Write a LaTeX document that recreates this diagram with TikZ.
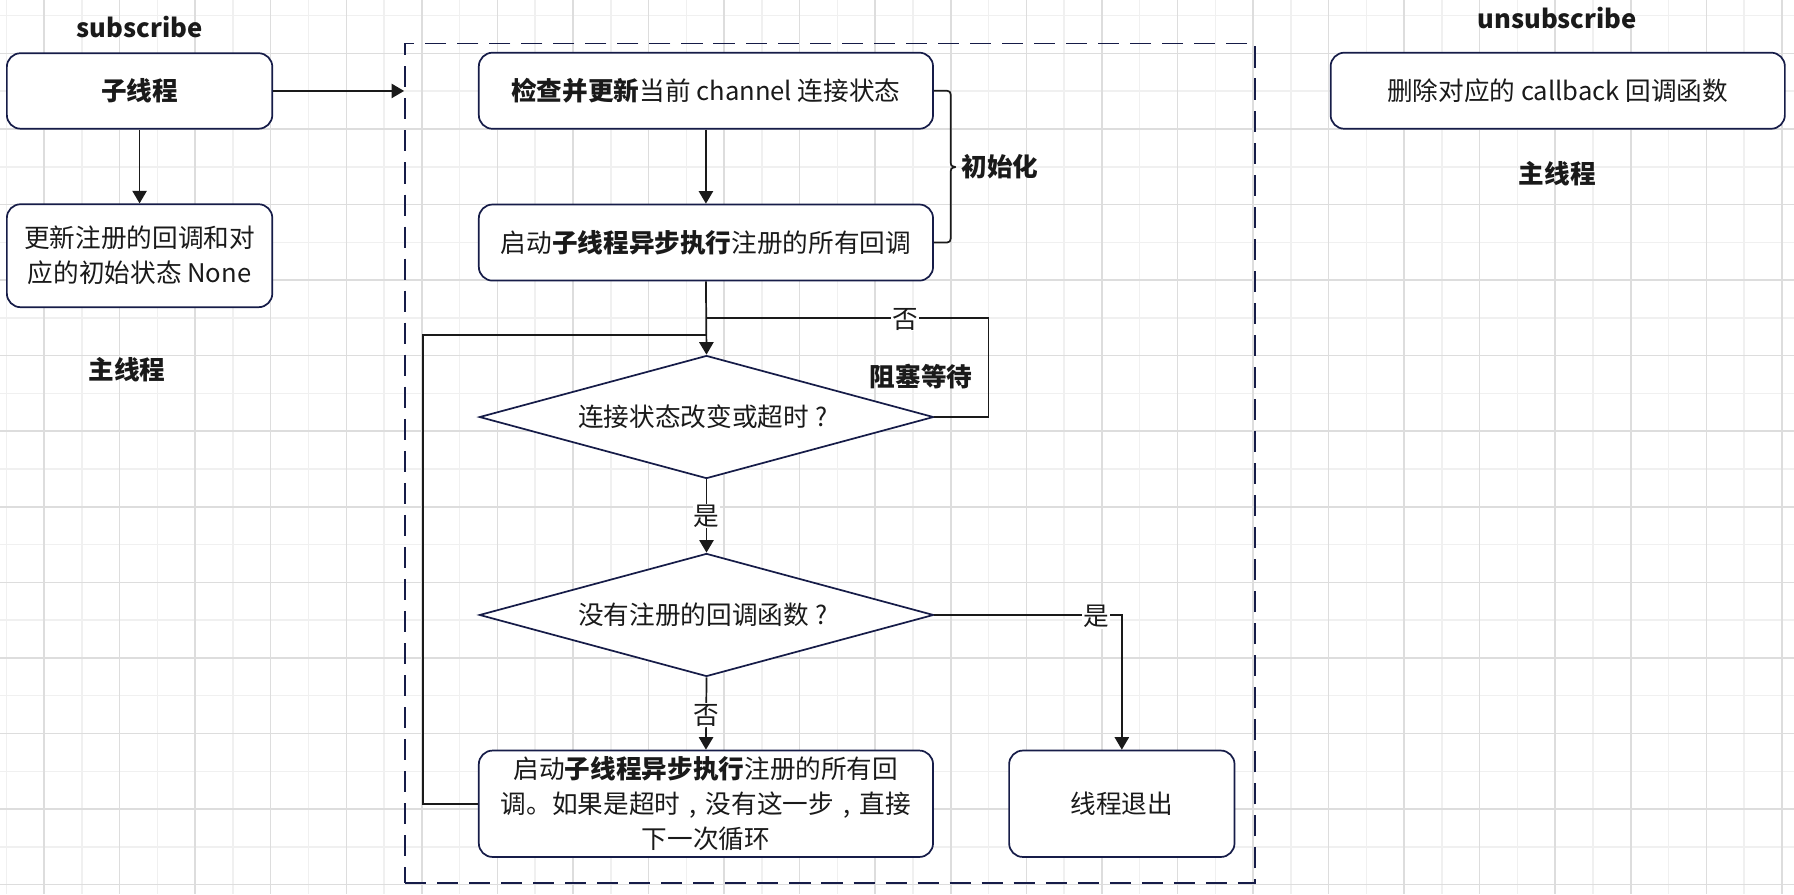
\documentclass[tikz,border=0pt]{standalone}
\usepackage{fontspec}
\setmainfont{Noto Sans CJK SC}
\usetikzlibrary{arrows.meta,shapes.geometric,calc}
\definecolor{navy}{RGB}{22,28,72}
\definecolor{txt}{RGB}{26,26,26}
\definecolor{gridA}{RGB}{240,240,240}
\definecolor{gridB}{RGB}{221,221,221}
\newcommand{\cq}{\makebox[1em][c]{?}}
\newcommand{\cc}{\makebox[1em][c]{,}}
\begin{document}
\begin{tikzpicture}[x=1pt,y=-1pt,
  every node/.style={font=\fontsize{22.4}{30.5}\selectfont, text=txt},
  box/.style={draw=navy, line width=1.5pt, rounded corners=12pt, fill=white, align=center, inner sep=0pt},
  dia/.style={draw=navy, line width=1.5pt, diamond, shape aspect=3.7, fill=white, inner sep=0pt, minimum width=397pt, minimum height=107.5pt, align=center},
  grpbox/.style={draw=navy, line width=1.6pt, dash pattern=on 18.4pt off 9.6pt, inner sep=0pt},
  arr/.style={draw=txt, line width=1.5pt, -{Triangle[length=11pt,width=12.5pt]}},
  ln/.style={draw=txt, line width=1.5pt},
  lab/.style={fill=white, inner sep=1pt},
  ttl/.style={font=\fontsize{22.4}{30.5}\selectfont\bfseries}
]
\useasboundingbox (0,0) rectangle (1568,781.4);
\fill[white] (0,0) rectangle (1568,781.4);
% grid
\foreach \k in {0,...,23} {
  \draw[gridA, line width=1.3pt] ({5.5+66.04*\k},0) -- ({5.5+66.04*\k},781.4);
}
\foreach \k in {0,...,11} {
  \draw[gridA, line width=1.3pt] (0,{13.7+66.04*\k}) -- (1568,{13.7+66.04*\k});
}
\foreach \k in {0,...,23} {
  \draw[gridB, line width=1.3pt] ({38.5+66.04*\k},0) -- ({38.5+66.04*\k},781.4);
}
\foreach \k in {0,...,11} {
  \draw[gridB, line width=1.3pt] (0,{46.7+66.04*\k}) -- (1568,{46.7+66.04*\k});
}

% group box
\node[grpbox, minimum width=743pt, minimum height=734pt] (grp) at (725.5,405) {};

% titles
\node[ttl] (tsub) at (122,24) {subscribe};
\node[ttl] (tmain1) at (111,323) {主线程};
\node[ttl] (tunsub) at (1361,16) {unsubscribe};
\node[ttl] (tmain2) at (1361,152) {主线程};

% left column
\node[box, minimum width=232pt, minimum height=66pt] (A) at (122,79.5) {\bfseries 子线程};
\node[box, minimum width=232pt, minimum height=90pt] (B) at (122,223.5) {更新注册的回调和对\\应的初始状态 None};

% middle
\node[box, minimum width=397pt, minimum height=66.5pt] (C) at (617,79.3) {{\bfseries 检查并更新}当前 channel 连接状态};
\node[box, minimum width=397pt, minimum height=66.5pt] (D) at (617,212) {启动{\bfseries 子线程异步执行}注册的所有回调};
\node[dia] (E) at (617.5,364.5) {连接状态改变或超时\cq};
\node[dia] (F) at (617.5,537.5) {没有注册的回调函数\cq};
\node[box, minimum width=397pt, minimum height=93pt] (G) at (617,702.5) {启动{\bfseries 子线程异步执行}注册的所有回\\调。如果是超时\cc 没有这一步\cc 直接\\下一次循环};
\node[box, minimum width=197pt, minimum height=93pt] (H) at (980.5,702.5) {线程退出};

% right
\node[box, minimum width=397pt, minimum height=66.5pt] (I) at (1361.5,79.3) {删除对应的 callback 回调函数};

% coordinates
\coordinate (j1) at (617.5,278);
\coordinate (j2) at (617.5,292.5);
\coordinate (lr) at (864,278);
\coordinate (ll) at (369.5,292.5);

% connectors
\draw[arr] (A.east) -- (A.east -| grp.west);
\draw[arr] (A) -- (B);
\draw[arr] (C) -- (D);
\draw[arr] (D.south) -- (E.north);
\draw[ln] (E.east) -| (lr) -- (j1);
\draw[ln] (G.west) -| (ll) -- (j2);
\draw[arr] (E.south) -- (F.north);
\draw[arr] (F.south) -- (G.north);
\draw[arr] (F.east) -| (H.north);

% brace
\draw[ln, line join=round] (C.east) -- (824,79.3) .. controls (831,79.3) .. (831,87) -- (831,140)
  .. controls (831,145) .. (835,146) .. controls (831,147) .. (831,152) -- (831,204)
  .. controls (831,212) .. (824,212) -- (D.east);
\node[ttl, anchor=west] (tinit) at (837,146) {初始化};

% labels
\node[lab] (l1) at (791,279) {否};
\node[ttl] (tblock) at (805,329) {阻塞等待};
\node[lab] (l2) at (617.5,451) {是};
\node[lab] (l3) at (617.5,625) {否};
\node[lab] (l4) at (958,539) {是};
\end{tikzpicture}
\end{document}
